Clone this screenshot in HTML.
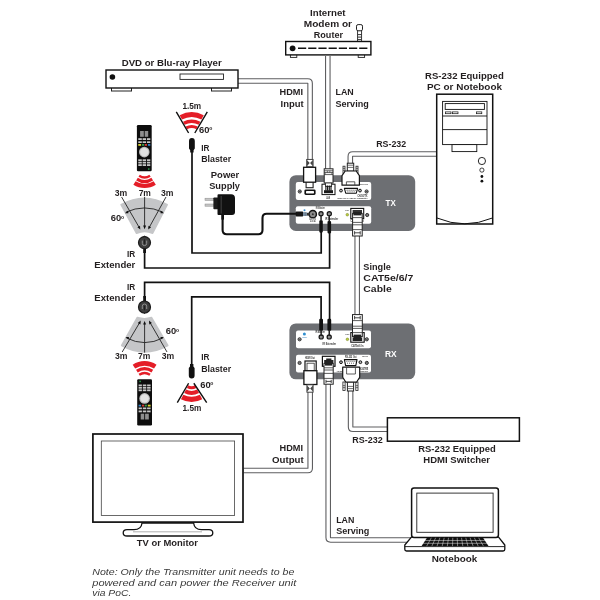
<!DOCTYPE html>
<html>
<head>
<meta charset="utf-8">
<title>Connection Diagram</title>
<style>
html,body{margin:0;padding:0;background:#fff;}
body{width:600px;height:600px;overflow:hidden;font-family:"Liberation Sans",sans-serif;}
svg{display:block;will-change:transform;}
text{font-family:"Liberation Sans",sans-serif;}
.t{font-size:9.4px;font-weight:bold;fill:#231f20;}
.n{font-size:9.3px;font-style:italic;fill:#3a3a3a;}
.co{fill:none;stroke:#5e5e60;stroke-width:5.6;stroke-linejoin:round;}
.ci{fill:none;stroke:#fff;stroke-width:3.4;stroke-linejoin:round;}
.ir{fill:none;stroke:#111;stroke-width:1.7;stroke-linejoin:miter;}
.red{fill:none;stroke:#e41d27;stroke-width:2.6;}
</style>
</head>
<body>
<svg width="600" height="600" viewBox="0 0 600 600">
<rect width="600" height="600" fill="#fff"/>
<defs>
  <g id="remote">
    <rect x="0" y="0" width="14.8" height="46.2" rx="1.2" fill="#0d0d0d"/>
    <rect x="3.2" y="6" width="3.7" height="5.8" fill="#8e8e8e"/>
    <rect x="7.8" y="6" width="3.5" height="5.8" fill="#8e8e8e"/>
    <g fill="#c6c6c6">
      <rect x="1.4" y="13.2" width="3.5" height="1.8"/><rect x="5.7" y="13.2" width="3.5" height="1.8"/><rect x="10.1" y="13.2" width="3.3" height="1.8"/>
      <rect x="1.4" y="16.3" width="3.5" height="1.7"/><rect x="5.7" y="16.3" width="3.5" height="1.7"/><rect x="10.1" y="16.3" width="3.3" height="1.7"/>
      <rect x="1.4" y="34.3" width="3.5" height="1.8"/><rect x="5.7" y="34.3" width="3.5" height="1.8"/><rect x="10.1" y="34.3" width="3.3" height="1.8"/>
      <rect x="1.4" y="36.8" width="3.5" height="1.7"/><rect x="5.7" y="36.8" width="3.5" height="1.7"/><rect x="10.1" y="36.8" width="3.3" height="1.7"/>
      <rect x="1.4" y="39.2" width="3.5" height="1.8"/><rect x="5.7" y="39.2" width="3.5" height="1.8"/><rect x="10.1" y="39.2" width="3.3" height="1.8"/>
    </g>
    <rect x="1.4" y="19" width="2.8" height="1.8" fill="#d9d32e"/>
    <rect x="5.1" y="19" width="2.1" height="1.8" fill="#2f9a4a"/>
    <rect x="7.8" y="19" width="2.3" height="1.8" fill="#d23a35"/>
    <rect x="11" y="19" width="2.4" height="1.8" fill="#2f7fc4"/>
    <circle cx="7.4" cy="27.1" r="5.3" fill="#bdbdbd"/>
    <circle cx="7.4" cy="27.1" r="4.2" fill="#e2e2e2"/>
    <rect x="11.1" y="43.3" width="1.5" height="1.5" fill="#2fa04f"/>
  </g>
</defs>

<!-- ===== CABLES (double line) ===== -->
<g id="cables">
  <path class="co" d="M237 81 H307.8 Q310.1 81 310.1 83.3 V160"/>
  <path class="ci" d="M237 81 H307.8 Q310.1 81 310.1 83.3 V160"/>
  <path class="co" d="M327.8 56 V170"/>
  <path class="ci" d="M327.8 56 V170"/>
  <path class="co" d="M350.3 164 V156.4 Q350.3 154 352.7 154 H437"/>
  <path class="ci" d="M350.3 164 V156.4 Q350.3 154 352.7 154 H437"/>
  <path class="co" d="M357.2 235 V316"/>
  <path class="ci" d="M357.2 235 V316"/>
  <path class="co" d="M310.2 391 V468.2 Q310.2 470.5 307.9 470.5 H243.5"/>
  <path class="ci" d="M310.2 391 V468.2 Q310.2 470.5 307.9 470.5 H243.5"/>
  <path class="co" d="M328.2 384 V537.6 Q328.2 540 330.6 540 H412"/>
  <path class="ci" d="M328.2 384 V537.6 Q328.2 540 330.6 540 H412"/>
  <path class="co" d="M350.6 391 V426.9 Q350.6 429.3 353 429.3 H387.5"/>
  <path class="ci" d="M350.6 391 V426.9 Q350.6 429.3 353 429.3 H387.5"/>
</g>

<!-- ===== DVD PLAYER ===== -->
<g id="dvd">
  <rect x="111.5" y="87" width="20" height="4" fill="#fff" stroke="#222" stroke-width="1"/>
  <rect x="211.5" y="87" width="20" height="4" fill="#fff" stroke="#222" stroke-width="1"/>
  <rect x="106" y="70" width="132" height="18" fill="#fff" stroke="#111" stroke-width="1.4"/>
  <circle cx="112.4" cy="77" r="2.8" fill="#111"/>
  <rect x="180" y="74" width="43.5" height="5.4" fill="#fff" stroke="#222" stroke-width="0.9"/>
</g>
<text class="t" x="171.7" y="65.7" text-anchor="middle" textLength="100" lengthAdjust="spacingAndGlyphs">DVD or Blu-ray Player</text>

<!-- ===== ROUTER ===== -->
<g id="router">
  <rect x="357.6" y="30.4" width="4" height="11" fill="#fff" stroke="#222" stroke-width="0.9"/>
  <path d="M357.6 34.6h4M357.6 37.1h4M357.6 39.6h4" stroke="#333" stroke-width="1"/>
  <rect x="356.5" y="24.6" width="6" height="6.2" rx="1.6" fill="#fff" stroke="#222" stroke-width="1"/>
  <rect x="290.4" y="54" width="6.4" height="3.4" fill="#fff" stroke="#222" stroke-width="0.9"/>
  <rect x="358.2" y="54" width="6.4" height="3.4" fill="#fff" stroke="#222" stroke-width="0.9"/>
  <rect x="285.7" y="41.5" width="85.2" height="13.4" fill="#fff" stroke="#111" stroke-width="1.4"/>
  <circle cx="292.6" cy="48.3" r="2.9" fill="#111"/>
  <path d="M298 48.3 H367.6" stroke="#111" stroke-width="1.6" stroke-dasharray="8.2 2"/>
</g>
<text class="t" x="327.8" y="15.5" text-anchor="middle" textLength="35.5" lengthAdjust="spacingAndGlyphs">Internet</text>
<text class="t" x="327.9" y="27" text-anchor="middle" textLength="48.2" lengthAdjust="spacingAndGlyphs">Modem or</text>
<text class="t" x="328.4" y="38.2" text-anchor="middle" textLength="29.2" lengthAdjust="spacingAndGlyphs">Router</text>

<text class="t" x="291.25" y="95.25" text-anchor="middle" textLength="23.5" lengthAdjust="spacingAndGlyphs">HDMI</text>
<text class="t" x="292.1" y="106.5" text-anchor="middle" textLength="23.2" lengthAdjust="spacingAndGlyphs">Input</text>
<text class="t" x="335.5" y="95.25" textLength="18.2" lengthAdjust="spacingAndGlyphs">LAN</text>
<text class="t" x="335.5" y="106.5" textLength="33.2" lengthAdjust="spacingAndGlyphs">Serving</text>
<text class="t" x="376.2" y="146.5" textLength="30" lengthAdjust="spacingAndGlyphs">RS-232</text>

<!-- ===== PC TOWER ===== -->
<g id="pc" fill="#fff" stroke="#111">
  <rect x="436.7" y="94.2" width="56" height="129.8" stroke-width="1.5"/>
  <path d="M437 218 Q464.7 229.6 492.4 218" fill="none" stroke-width="1"/>
  <rect x="442.6" y="101.4" width="44.4" height="43.2" stroke-width="0.9"/>
  <path d="M442.6 116 h44.4 M442.6 129.6 h44.4" stroke-width="0.9"/>
  <rect x="445.2" y="103.6" width="39.2" height="5.8" stroke-width="0.9"/>
  <rect x="445.6" y="111.9" width="5.4" height="1.8" stroke-width="0.7"/>
  <rect x="452.6" y="111.9" width="5.4" height="1.8" stroke-width="0.7"/>
  <rect x="476.4" y="111.9" width="5.4" height="1.8" stroke-width="0.7"/>
  <rect x="452" y="144.6" width="24.8" height="7" stroke-width="0.9"/>
  <circle cx="481.9" cy="161" r="3.6" stroke-width="0.9"/>
  <circle cx="481.9" cy="170.1" r="2.1" stroke-width="0.8"/>
  <circle cx="481.9" cy="176.5" r="1.4" fill="#111" stroke="none"/>
  <circle cx="481.9" cy="181.2" r="1.4" fill="#111" stroke="none"/>
</g>
<text class="t" x="464.4" y="78.5" text-anchor="middle" textLength="78.7" lengthAdjust="spacingAndGlyphs">RS-232 Equipped</text>
<text class="t" x="464.5" y="90.25" text-anchor="middle" textLength="75" lengthAdjust="spacingAndGlyphs">PC or Notebook</text>

<!-- ===== IR LINES ===== -->
<g id="irlines">
  <path class="ir" d="M192 151 V253 H321.2 V232"/>
  <path class="ir" d="M144.6 250 V268 H329.6 V232"/>
  <path class="ir" d="M144.6 298 V282.3 H329.6 V320"/>
  <path class="ir" d="M191.7 365 V296.8 H321.1 V320"/>
</g>

<!-- ===== TX ===== -->
<g id="tx">
  <rect x="289.4" y="175.2" width="125.8" height="55.7" rx="6.5" fill="#6d6f73"/>
  <rect x="295.8" y="182" width="75.4" height="18" rx="2" fill="#fff"/>
  <rect x="295.8" y="206.3" width="75.4" height="17.5" rx="2" fill="#fff"/>
  <text x="390.7" y="205.9" text-anchor="middle" font-size="9.8" font-weight="bold" fill="#fff" textLength="10.2" lengthAdjust="spacingAndGlyphs">TX</text>
  <!-- screws -->
  <g fill="#a8a8a8" stroke="#222" stroke-width="0.9">
    <circle cx="299.8" cy="191.5" r="1.6"/><circle cx="366.6" cy="191.5" r="1.6"/>
    <circle cx="367.2" cy="215" r="1.6"/>
  </g>
  <path d="M298.8 191.5h2M365.6 191.5h2M366.2 215h2" stroke="#222" stroke-width="0.7"/>
  <!-- HDMI port -->
  <rect x="304.4" y="189.4" width="11.2" height="5.6" rx="1.4" fill="#111"/>
  <rect x="306" y="191" width="8" height="2.4" rx="0.6" fill="#fff"/>
  <!-- LAN port -->
  <rect x="322" y="184.2" width="13" height="10.4" fill="#fff" stroke="#111" stroke-width="1"/>
  <rect x="324" y="190.2" width="9" height="3" fill="#1a1a1a"/>
  <!-- DB9 port -->
  <circle cx="341" cy="190.6" r="1.4" fill="#bbb" stroke="#151515" stroke-width="1"/>
  <circle cx="360" cy="190.6" r="1.4" fill="#bbb" stroke="#151515" stroke-width="1"/>
  <path d="M344.4 188.4 h13.2 l-1.3 4.8 h-10.6 z" fill="#fff" stroke="#111" stroke-width="1.1" stroke-linejoin="round"/>
  <path d="M346.6 190.2h9" stroke="#222" stroke-width="0.9" stroke-dasharray="1 1"/>
  <path d="M347.4 191.8h7.4" stroke="#222" stroke-width="0.7" stroke-dasharray="1 1.1"/>
  <!-- tiny labels -->
  <text x="326.2" y="198.6" font-size="2.7" font-weight="bold" fill="#333" textLength="3.8" lengthAdjust="spacingAndGlyphs">LAN</text>
  <text x="337" y="199.3" font-size="2.2" font-weight="bold" fill="#333" textLength="30.4" lengthAdjust="spacingAndGlyphs">HDMI over CAT5e/6/7 Transmitter</text>
  <text x="357.6" y="196.5" font-size="2.9" font-weight="bold" fill="#222" textLength="9.8" lengthAdjust="spacingAndGlyphs">CH-507TX</text>
  <text x="360" y="184.8" font-size="2.2" font-weight="bold" fill="#444" textLength="8" lengthAdjust="spacingAndGlyphs">SERVICE</text>
  <!-- bottom panel -->
  <circle cx="304.5" cy="210.2" r="1" fill="#3b8fd0"/>
  <circle cx="312.8" cy="214.2" r="3.6" fill="#8c8c8c" stroke="#111" stroke-width="1.5"/>
  <circle cx="312.8" cy="214.2" r="1" fill="#333"/>
  <text x="309.4" y="219.8" font-size="2.7" font-weight="bold" fill="#333" textLength="6.6" lengthAdjust="spacingAndGlyphs">DC 5V</text>
  <text x="309.8" y="222.4" font-size="2.6" font-weight="bold" fill="#333" textLength="5.8" lengthAdjust="spacingAndGlyphs">⊖⊙⊕</text>
  <text x="315.8" y="209" font-size="2.7" font-weight="bold" fill="#333" textLength="9" lengthAdjust="spacingAndGlyphs">IR Blaster</text>
  <text x="325.2" y="220.3" font-size="2.7" font-weight="bold" fill="#333" textLength="13" lengthAdjust="spacingAndGlyphs">IR Extender</text>
  <circle cx="321" cy="213.8" r="2.1" fill="#8d8d8d" stroke="#151515" stroke-width="1.2"/>
  <circle cx="329.3" cy="213.8" r="2.1" fill="#8d8d8d" stroke="#151515" stroke-width="1.2"/>
  <text x="345" y="210.8" font-size="2.4" font-weight="bold" fill="#444" textLength="3.8" lengthAdjust="spacingAndGlyphs">Link</text>
  <circle cx="347.3" cy="214.7" r="1.3" fill="#bccf3a" stroke="#7d8a2c" stroke-width="0.6"/>
  <rect x="350.8" y="208.4" width="12.9" height="10.3" fill="#fff" stroke="#111" stroke-width="1.1"/>
  <rect x="352.6" y="210" width="9.4" height="4" fill="#333"/>
  <text x="350.4" y="222.4" font-size="2.7" font-weight="bold" fill="#333" textLength="13.4" lengthAdjust="spacingAndGlyphs">CAT5e/6/7 Out</text>
</g>

<!-- TX connectors -->
<g id="txconn">
  <!-- HDMI plug -->
  <rect x="306.7" y="159.4" width="6.4" height="7.4" fill="#fff" stroke="#333" stroke-width="0.9"/>
  <path d="M306.9 160l2.8 3.1l-2.8 3.1zM312.9 160l-2.8 3.1l2.8 3.1z" fill="#444"/>
  <rect x="306.1" y="181" width="7" height="6.7" fill="#fff" stroke="#222" stroke-width="1.1"/>
  <rect x="303.6" y="167.3" width="12" height="14.9" fill="#fff" stroke="#151515" stroke-width="1.3"/>
  <!-- LAN plug -->
  <rect x="324.2" y="168.8" width="8.8" height="14.3" fill="#fff" stroke="#222" stroke-width="1"/>
  <path d="M324.2 170.8h8.8M324.2 172.6h8.8M324.2 174.6h8.8" stroke="#333" stroke-width="0.8"/>
  <path d="M325.2 172.6v2M327.4 170.8v1.8M329.8 170.8v1.8M331.8 172.6v2" stroke="#333" stroke-width="0.6"/>
  <rect x="325.6" y="183" width="6" height="3.4" fill="#fff" stroke="#222" stroke-width="0.8"/>
  <path d="M325.9 185.4v5M327.6 185.4v5M329.3 185.4v5M331 185.4v5" stroke="#111" stroke-width="1.1"/>
  <!-- DB9 plug -->
  <rect x="343" y="166.2" width="2" height="7.4" fill="#fff" stroke="#222" stroke-width="0.8"/>
  <rect x="356" y="166.2" width="2" height="7.4" fill="#fff" stroke="#222" stroke-width="0.8"/>
  <path d="M343 168.4h2M343 170.4h2M356 168.4h2M356 170.4h2" stroke="#222" stroke-width="0.6"/>
  <rect x="347.3" y="163.2" width="6.4" height="8" fill="#fff" stroke="#222" stroke-width="1"/>
  <path d="M347.3 165.2h6.4M347.3 167.4h6.4" stroke="#333" stroke-width="0.7"/>
  <path d="M345.2 171 h11 l3.2 4.6 v9.6 h-17.4 v-9.6 z" fill="#fff" stroke="#151515" stroke-width="1.2" stroke-linejoin="round"/>
  <path d="M346.4 185 v-3.2 h8.4 v3.2" fill="none" stroke="#333" stroke-width="0.8"/>
  <!-- power plug in -->
  <rect x="295.6" y="211.6" width="7.6" height="5" rx="0.8" fill="#151515"/>
  <rect x="303" y="212.2" width="4" height="3.8" fill="#8fa3b5"/>
  <path d="M304 212.2v3.8M305.4 212.2v3.8" stroke="#4b5c6e" stroke-width="0.6"/>
  <rect x="306.8" y="212.8" width="3" height="2.8" fill="#333"/>
  <!-- IR plugs -->
  <rect x="319.3" y="220.3" width="3.5" height="12.4" rx="1.1" fill="#111"/>
  <rect x="320.3" y="215" width="1.5" height="6" fill="#222"/>
  <rect x="327.5" y="221" width="3.6" height="12.4" rx="1.1" fill="#111"/>
  <rect x="328.5" y="215" width="1.5" height="6.4" fill="#222"/>
  <!-- CAT plug -->
  <rect x="352.6" y="213.4" width="9.6" height="22.6" fill="#fff" stroke="#222" stroke-width="1"/>
  <rect x="353.4" y="212" width="8" height="3.4" fill="#222"/>
  <path d="M352.6 217.6h9.6M352.6 222.4h9.6M352.6 224.8h9.6M352.6 229.6h9.6" stroke="#333" stroke-width="0.8"/>
  <path d="M354.6 231.2v3.4M360.2 231.2v3.4M354.6 232.8h5.6" stroke="#333" stroke-width="0.9" fill="none"/>
</g>

<!-- ===== RX ===== -->
<g id="rx">
  <rect x="289.4" y="323.4" width="125.8" height="55.9" rx="6.5" fill="#6d6f73"/>
  <rect x="296" y="330.6" width="75" height="17.6" rx="2" fill="#fff"/>
  <rect x="296" y="354.8" width="75" height="17.6" rx="2" fill="#fff"/>
  <text x="390.8" y="356.6" text-anchor="middle" font-size="9.8" font-weight="bold" fill="#fff" textLength="11.7" lengthAdjust="spacingAndGlyphs">RX</text>
  <g fill="#a8a8a8" stroke="#222" stroke-width="0.9">
    <circle cx="299.6" cy="339.3" r="1.6"/><circle cx="366.8" cy="339.3" r="1.6"/>
    <circle cx="299.6" cy="362.9" r="1.6"/><circle cx="366.8" cy="362.9" r="1.6"/>
  </g>
  <path d="M298.6 339.3h2M365.8 339.3h2M298.6 362.9h2M365.8 362.9h2" stroke="#222" stroke-width="0.7"/>
  <!-- top panel -->
  <circle cx="304.4" cy="334" r="1.5" fill="#2f8fd0"/>
  <text x="302.2" y="338" font-size="2.4" font-weight="bold" fill="#4b8fc4" textLength="5" lengthAdjust="spacingAndGlyphs">Power</text>
  <text x="315.4" y="332.5" font-size="2.7" font-weight="bold" fill="#333" textLength="9.4" lengthAdjust="spacingAndGlyphs">IR Blaster</text>
  <text x="322.6" y="344.8" font-size="2.7" font-weight="bold" fill="#333" textLength="13.4" lengthAdjust="spacingAndGlyphs">IR Extender</text>
  <circle cx="321.2" cy="336.9" r="2.1" fill="#8d8d8d" stroke="#151515" stroke-width="1.2"/>
  <circle cx="329.2" cy="336.9" r="2.1" fill="#8d8d8d" stroke="#151515" stroke-width="1.2"/>
  <text x="345.2" y="334.6" font-size="2.4" font-weight="bold" fill="#444" textLength="4.2" lengthAdjust="spacingAndGlyphs">Link</text>
  <circle cx="347.4" cy="339.3" r="1.3" fill="#bccf3a" stroke="#7d8a2c" stroke-width="0.6"/>
  <rect x="350.8" y="332.6" width="13.4" height="9.6" fill="#fff" stroke="#111" stroke-width="1.1"/>
  <path d="M352.6 341 v-3.4 h2 v-1.6 h5.6 v1.6 h2 v3.4 z" fill="#222"/>
  <text x="351.2" y="346.9" font-size="2.7" font-weight="bold" fill="#333" textLength="12.2" lengthAdjust="spacingAndGlyphs">CAT5e/6 In</text>
  <!-- bottom panel -->
  <text x="305" y="358.6" font-size="2.7" font-weight="bold" fill="#333" textLength="9.8" lengthAdjust="spacingAndGlyphs">HDMI Out</text>
  <rect x="322.4" y="356.3" width="12.6" height="10" fill="#fff" stroke="#111" stroke-width="1.2"/>
  <path d="M324.2 364.4 v-4.4 h2 v-1.6 h5.2 v1.6 h2 v4.4 z" fill="#222"/>
  <text x="345" y="357.9" font-size="2.7" font-weight="bold" fill="#333" textLength="11.6" lengthAdjust="spacingAndGlyphs">RS-232 Out</text>
  <text x="362" y="357.1" font-size="2.2" font-weight="bold" fill="#444" textLength="6" lengthAdjust="spacingAndGlyphs">SERVICE</text>
  <circle cx="341" cy="362.2" r="1.4" fill="#bbb" stroke="#151515" stroke-width="1"/>
  <circle cx="360.4" cy="362.2" r="1.4" fill="#bbb" stroke="#151515" stroke-width="1"/>
  <path d="M344.4 359.6 h12.6 l-1.2 6 h-10.2 z" fill="#fff" stroke="#111" stroke-width="1.1" stroke-linejoin="round"/>
  <path d="M346.4 361.4h9M347 363.2h7.6" stroke="#222" stroke-width="0.7" stroke-dasharray="1 1"/>
  <text x="357.8" y="369.9" font-size="2.9" font-weight="bold" fill="#222" textLength="10.4" lengthAdjust="spacingAndGlyphs">CH-507RX</text>
  <text x="336.8" y="371.6" font-size="2.2" font-weight="bold" fill="#333" textLength="31.4" lengthAdjust="spacingAndGlyphs">HDMI over CAT5e/6/7 Receiver</text>
</g>

<!-- RX connectors -->
<g id="rxconn">
  <!-- IR plugs -->
  <rect x="319.2" y="318.8" width="3.8" height="12" rx="1.1" fill="#111"/>
  <rect x="320.4" y="330" width="1.5" height="6" fill="#222"/>
  <rect x="327.4" y="318.8" width="3.8" height="12" rx="1.1" fill="#111"/>
  <rect x="328.5" y="330" width="1.5" height="6" fill="#222"/>
  <!-- CAT plug -->
  <rect x="352.5" y="314.6" width="9.8" height="22" fill="#fff" stroke="#222" stroke-width="1"/>
  <path d="M352.5 320.6h9.8M352.5 326.2h9.8M352.5 328.4h9.8M352.5 332.6h9.8" stroke="#333" stroke-width="0.8"/>
  <path d="M354.6 316v3.4M360.2 316v3.4M354.6 317.8h5.6" stroke="#333" stroke-width="0.9" fill="none"/>
  <rect x="353.6" y="334.6" width="7.6" height="3.6" fill="#222"/>
  <!-- HDMI plug -->
  <rect x="305" y="361" width="11.2" height="10" fill="#fff" stroke="#151515" stroke-width="1.2"/>
  <rect x="307" y="363.2" width="7.2" height="8" fill="#fff" stroke="#333" stroke-width="0.8"/>
  <rect x="303.9" y="370.7" width="13" height="13.8" fill="#fff" stroke="#151515" stroke-width="1.3"/>
  <rect x="306.9" y="384.8" width="6.2" height="7.4" fill="#fff" stroke="#333" stroke-width="0.9"/>
  <path d="M307.1 385.4l2.7 3.1l-2.7 3.1zM312.9 385.4l-2.7 3.1l2.7 3.1z" fill="#444"/>
  <!-- LAN plug -->
  <rect x="324" y="363.4" width="9.2" height="20.8" fill="#fff" stroke="#222" stroke-width="1"/>
  <rect x="325" y="362" width="7.2" height="3.6" fill="#222"/>
  <path d="M324 367.8h9.2M324 370h9.2M324 373.4h9.2M324 378.4h9.2" stroke="#333" stroke-width="0.8"/>
  <path d="M326 379.8v3.2M331.2 379.8v3.2M326 381.4h5.2" stroke="#333" stroke-width="0.9" fill="none"/>
  <!-- DB9 plug -->
  <rect x="342.9" y="382" width="2.2" height="8.4" fill="#fff" stroke="#222" stroke-width="0.8"/>
  <rect x="355.8" y="382" width="2.2" height="8.4" fill="#fff" stroke="#222" stroke-width="0.8"/>
  <path d="M342.9 385.6h2.2M342.9 387.6h2.2M355.8 385.6h2.2M355.8 387.6h2.2" stroke="#222" stroke-width="0.6"/>
  <rect x="347.4" y="381" width="6.2" height="10" fill="#fff" stroke="#222" stroke-width="1"/>
  <path d="M347.4 386.4h6.2M347.4 388.6h6.2" stroke="#333" stroke-width="0.7"/>
  <path d="M342.7 367.2 h17 v10 l-3.2 5 h-10.6 l-3.2 -5 z" fill="#fff" stroke="#151515" stroke-width="1.2" stroke-linejoin="round"/>
  <path d="M346.6 367.4 v6.6 h8.8 v-6.6" fill="none" stroke="#333" stroke-width="0.8"/>
</g>

<text class="t" x="363.3" y="269.7" textLength="27.5" lengthAdjust="spacingAndGlyphs">Single</text>
<text class="t" x="363.3" y="280.8" textLength="50" lengthAdjust="spacingAndGlyphs">CAT5e/6/7</text>
<text class="t" x="363.3" y="291.7" textLength="28.4" lengthAdjust="spacingAndGlyphs">Cable</text>

<!-- ===== POWER SUPPLY ===== -->
<text class="t" x="225" y="178" text-anchor="middle" textLength="28.4" lengthAdjust="spacingAndGlyphs">Power</text>
<text class="t" x="224.6" y="189.2" text-anchor="middle" textLength="30.8" lengthAdjust="spacingAndGlyphs">Supply</text>
<g id="psu">
  <rect x="205" y="198.2" width="9" height="2.2" fill="#c4c4c4" stroke="#8a8a8a" stroke-width="0.5"/>
  <rect x="205" y="204" width="9" height="2.2" fill="#c4c4c4" stroke="#8a8a8a" stroke-width="0.5"/>
  <rect x="213.4" y="197.4" width="5" height="11.8" rx="0.8" fill="#1c1c1c"/>
  <path d="M217.5 195.2 q0 -1 1 -1 h12.6 q3.9 0 3.9 3.9 v14 q0 3 -3 3 h-13.5 q-1 0 -1 -1 z" fill="#111"/>
  <path d="M221.2 196v17.6" stroke="#3a3a3a" stroke-width="1.2"/>
  <path d="M221.4 215h2.6v4.6h-2.6z" fill="#111"/>
  <path d="M222.6 214 V230 Q222.6 234.2 226.8 234.2 H258.3 Q262.5 234.2 262.5 230 V217.9 Q262.5 213.8 266.7 213.8 H297" fill="none" stroke="#111" stroke-width="2.1"/>
</g>

<!-- ===== TOP IR BLASTER ===== -->
<g id="blaster1">
  <text class="t" x="191.8" y="108.8" text-anchor="middle" textLength="18.8" lengthAdjust="spacingAndGlyphs">1.5m</text>
  <g class="red">
    <path stroke-width="5" d="M180.80 117.37 A23.6 23.6 0 0 1 202.60 117.37"/>
    <path stroke-width="3.5" d="M183.85 123.22 A17 17 0 0 1 199.55 123.22"/>
    <path stroke-width="3" d="M186.30 127.92 A11.7 11.7 0 0 1 197.10 127.92"/>
  </g>
  <path d="M176.3 111.8 L188.6 133 M207.3 111.8 L194.8 133" fill="none" stroke="#111" stroke-width="1.4"/>
  <text class="t" x="199" y="132.7" font-size="8">60<tspan font-size="5" dy="-2.8" dx="-0.3">o</tspan></text>
  <path d="M189 141 a2.9 2.9 0 0 1 5.8 0 v7.6 l-1.2 1.6 v2.4 h-3.4 v-2.4 l-1.2 -1.6 z" fill="#111"/>
  <text class="t" x="201.2" y="150.8" textLength="8.2" lengthAdjust="spacingAndGlyphs">IR</text>
  <text class="t" x="201.2" y="162" textLength="30" lengthAdjust="spacingAndGlyphs">Blaster</text>
</g>

<!-- ===== TOP REMOTE + EXTENDER ===== -->
<use href="#remote" x="136.9" y="125"/>
<g class="red">
  <path stroke-width="4.1" d="M134.47 183.00 A18.6 18.6 0 0 0 154.73 183.00"/>
  <path stroke-width="3.1" d="M136.98 179.14 A14.0 14.0 0 0 0 152.22 179.14"/>
  <path stroke-width="2.4" d="M139.15 175.79 A10.0 10.0 0 0 0 150.05 175.79"/>
</g>
<text class="t" x="121" y="195.6" text-anchor="middle" textLength="12.5" lengthAdjust="spacingAndGlyphs">3m</text>
<text class="t" x="144.8" y="195.6" text-anchor="middle" textLength="12.3" lengthAdjust="spacingAndGlyphs">7m</text>
<text class="t" x="167.2" y="195.6" text-anchor="middle" textLength="12.5" lengthAdjust="spacingAndGlyphs">3m</text>
<g id="fan1">
  <path d="M121.1 204.7 Q144.6 191.8 167.2 204.7 L152.6 233.25 Q144.6 229.4 136.6 233.25 Z" fill="#c5c6c8" stroke="#c5c6c8" stroke-width="1.6" stroke-linejoin="round"/>
  <path d="M125.75 212.25 Q144.5 203.6 163.1 212.25" fill="none" stroke="#222" stroke-width="0.9"/>
  <path d="M125 213.2l3.2-2.6l0.2 2.6zM163.9 213.2l-3.2-2.6l-0.2 2.6z" fill="#111"/>
  <path d="M144.6 196.8 V227M121.6 197 L139.4 227.8M166 197 L149 227.8" stroke="#222" stroke-width="0.9" fill="none"/>
  <path d="M144.6 229.2l-1.5-3.6h3zM140.3 229.6l-2.9-2.4l2.6-1.5zM148.2 229.6l2.9-2.4l-2.6-1.5z" fill="#111"/>
  <text class="t" x="110.8" y="221.4" font-size="8">60<tspan font-size="5" dy="-2.8" dx="-0.3">o</tspan></text>
</g>
<g id="ext1">
  <rect x="143.2" y="247" width="2.8" height="6" fill="#111"/>
  <path d="M142.6 237l1.9-1.4l1.9 1.4z" fill="#222"/>
  <circle cx="144.5" cy="242.6" r="6" fill="#3d3d3d" stroke="#1c1c1c" stroke-width="1.2"/>
  <path d="M142.3 240.6v2.8a2.2 2.2 0 0 0 4.4 0v-2.8" fill="none" stroke="#8f8f8f" stroke-width="1"/>
  <path d="M144.5 239.4v4.4" stroke="#1a1a1a" stroke-width="0.8"/>
  <text class="t" x="135.3" y="257" text-anchor="end" textLength="8.2" lengthAdjust="spacingAndGlyphs">IR</text>
  <text class="t" x="135.3" y="268.2" text-anchor="end" textLength="41" lengthAdjust="spacingAndGlyphs">Extender</text>
</g>

<!-- ===== BOTTOM EXTENDER + REMOTE ===== -->
<g id="ext2">
  <text class="t" x="135.3" y="289.6" text-anchor="end" textLength="8.2" lengthAdjust="spacingAndGlyphs">IR</text>
  <text class="t" x="135.3" y="300.8" text-anchor="end" textLength="41" lengthAdjust="spacingAndGlyphs">Extender</text>
  <rect x="143.2" y="296" width="2.8" height="6" fill="#111"/>
  <path d="M142.6 312.6l1.9 1.4l1.9-1.4z" fill="#222"/>
  <circle cx="144.5" cy="307" r="6" fill="#3d3d3d" stroke="#1c1c1c" stroke-width="1.2"/>
  <path d="M142.3 309v-2.8a2.2 2.2 0 0 1 4.4 0v2.8" fill="none" stroke="#8f8f8f" stroke-width="1"/>
  <path d="M144.5 310.2v-4.4" stroke="#1a1a1a" stroke-width="0.8"/>
</g>
<g id="fan2">
  <path d="M121.7 345.5 Q144.6 358.3 167.75 345.5 L151.4 317.5 Q144.6 319.9 137.4 317.5 Z" fill="#c5c6c8" stroke="#c5c6c8" stroke-width="1.6" stroke-linejoin="round"/>
  <path d="M126.3 337.9 Q144.6 347.3 163.1 337.9" fill="none" stroke="#222" stroke-width="0.9"/>
  <path d="M125.5 337l3.2 2.6l0.2-2.6zM163.9 337l-3.2 2.6l-0.2-2.6z" fill="#111"/>
  <path d="M144.6 352.6 V323M122.2 352 L139.9 322.2M167 352 L149.8 322.2" stroke="#222" stroke-width="0.9" fill="none"/>
  <path d="M144.6 321l-1.5 3.6h3zM140.7 320.6l-2.9 2.4l2.6 1.5zM149 320.6l2.9 2.4l-2.6 1.5z" fill="#111"/>
  <text class="t" x="165.8" y="334.4" font-size="8">60<tspan font-size="5" dy="-2.8" dx="-0.3">o</tspan></text>
</g>
<text class="t" x="121.2" y="358.9" text-anchor="middle" textLength="12.5" lengthAdjust="spacingAndGlyphs">3m</text>
<text class="t" x="144.2" y="358.9" text-anchor="middle" textLength="12.3" lengthAdjust="spacingAndGlyphs">7m</text>
<text class="t" x="168" y="358.9" text-anchor="middle" textLength="12.5" lengthAdjust="spacingAndGlyphs">3m</text>
<g class="red">
  <path stroke-width="4.6" d="M133.93 366.56 A19.6 19.6 0 0 1 155.27 366.56"/>
  <path stroke-width="3.1" d="M136.89 371.13 A14.15 14.15 0 0 1 152.31 371.13"/>
  <path stroke-width="2.4" d="M139.21 374.70 A9.9 9.9 0 0 1 149.99 374.70"/>
</g>
<use href="#remote" transform="translate(152 425.5) rotate(180)"/>

<!-- ===== BOTTOM IR BLASTER ===== -->
<g id="blaster2">
  <text class="t" x="201.2" y="360.3" textLength="8.2" lengthAdjust="spacingAndGlyphs">IR</text>
  <text class="t" x="201.2" y="371.6" textLength="30" lengthAdjust="spacingAndGlyphs">Blaster</text>
  <path d="M188.8 375.6 a2.9 2.9 0 0 0 5.8 0 v-7.6 l-1.2 -1.6 v-2.4 h-3.4 v2.4 l-1.2 1.6 z" fill="#111"/>
  <g class="red">
    <path stroke-width="5.2" d="M182.13 396.98 A20.5 20.5 0 0 0 201.07 396.98"/>
    <path stroke-width="4.1" d="M185.11 391.26 A14.05 14.05 0 0 0 198.09 391.26"/>
    <path stroke-width="2.9" d="M187.51 386.65 A8.85 8.85 0 0 0 195.69 386.65"/>
  </g>
  <path d="M188.6 383.25 L177.3 402.7 M193.8 383.25 L206.7 402.7" fill="none" stroke="#111" stroke-width="1.4"/>
  <text class="t" x="200.2" y="387.6" font-size="8">60<tspan font-size="5" dy="-2.8" dx="-0.3">o</tspan></text>
  <text class="t" x="191.9" y="410.7" text-anchor="middle" textLength="18.8" lengthAdjust="spacingAndGlyphs">1.5m</text>
</g>

<!-- ===== TV ===== -->
<g id="tv">
  <path d="M142 523 Q141.4 529.7 134 529.7 H127 Q123.2 529.7 123.2 533 Q123.2 536 127 536 H209 Q212.8 536 212.8 533 Q212.8 529.7 209 529.7 H201.4 Q194.4 529.7 193.6 523 Z" fill="#fff" stroke="#111" stroke-width="1.3" stroke-linejoin="round"/>
  <path d="M133 531.8 H202" stroke="#9a9a9a" stroke-width="0.8"/>
  <rect x="92.9" y="434" width="150.1" height="88.1" fill="#fff" stroke="#111" stroke-width="1.7"/>
  <rect x="101.3" y="441" width="133.3" height="74.6" fill="#fff" stroke="#444" stroke-width="0.8"/>
</g>
<text class="t" x="167.4" y="546" text-anchor="middle" textLength="61.2" lengthAdjust="spacingAndGlyphs">TV or Monitor</text>
<text class="t" x="291.25" y="451.25" text-anchor="middle" textLength="23.5" lengthAdjust="spacingAndGlyphs">HDMI</text>
<text class="t" x="287.9" y="462.5" text-anchor="middle" textLength="31.7" lengthAdjust="spacingAndGlyphs">Output</text>

<!-- ===== SWITCHER ===== -->
<rect x="387.4" y="417.8" width="132" height="23.4" fill="#fff" stroke="#111" stroke-width="1.5"/>
<text class="t" x="352.2" y="443.3" textLength="30.5" lengthAdjust="spacingAndGlyphs">RS-232</text>
<text class="t" x="457" y="451.7" text-anchor="middle" textLength="77.4" lengthAdjust="spacingAndGlyphs">RS-232 Equipped</text>
<text class="t" x="456.7" y="462.7" text-anchor="middle" textLength="66.7" lengthAdjust="spacingAndGlyphs">HDMI Switcher</text>

<!-- ===== NOTEBOOK ===== -->
<g id="nb">
  <path d="M411.4 537.2 H498.6 L504.8 545 V549.3 Q504.8 551 503.1 551 H406.5 Q404.8 551 404.8 549.3 V545 Z" fill="#fff" stroke="#111" stroke-width="1.3" stroke-linejoin="round"/>
  <path d="M404.8 546.6h100" stroke="#111" stroke-width="0.9"/>
  <rect x="411.6" y="487.9" width="86.8" height="49.6" rx="2.4" fill="#fff" stroke="#111" stroke-width="1.5"/>
  <rect x="416.8" y="493.1" width="76.3" height="39.2" fill="#fff" stroke="#222" stroke-width="0.9"/>
  <path d="M427.0 537.8 H483.0 L488.5 546.1 H421.6 Z" fill="#111"/>
  <path d="M424.6 540.5h61.4M423 543.3h64.6" stroke="#fff" stroke-width="0.45"/>
  <path d="M431.3 537.8L426.7 546.1M435.6 537.8L431.9 546.1M439.9 537.8L437.0 546.1M444.2 537.8L442.2 546.1M448.5 537.8L447.3 546.1M452.8 537.8L452.5 546.1M457.2 537.8L457.6 546.1M461.5 537.8L462.8 546.1M465.8 537.8L467.9 546.1M470.1 537.8L473.1 546.1M474.4 537.8L478.2 546.1M478.7 537.8L483.4 546.1" stroke="#fff" stroke-width="0.45"/>
</g>
<text class="t" x="454.5" y="562.3" text-anchor="middle" textLength="45.6" lengthAdjust="spacingAndGlyphs">Notebook</text>
<text class="t" x="336.2" y="522.5" textLength="18.2" lengthAdjust="spacingAndGlyphs">LAN</text>
<text class="t" x="336.2" y="533.75" textLength="33.2" lengthAdjust="spacingAndGlyphs">Serving</text>

<!-- ===== NOTE ===== -->
<text class="n" x="92.3" y="574.6" textLength="202" lengthAdjust="spacingAndGlyphs">Note: Only the Transmitter unit needs to be</text>
<text class="n" x="92.3" y="585.8" textLength="204" lengthAdjust="spacingAndGlyphs">powered and can power the Receiver unit</text>
<text class="n" x="92.3" y="596.4" textLength="39" lengthAdjust="spacingAndGlyphs">via PoC.</text>
</svg>
</body>
</html>
